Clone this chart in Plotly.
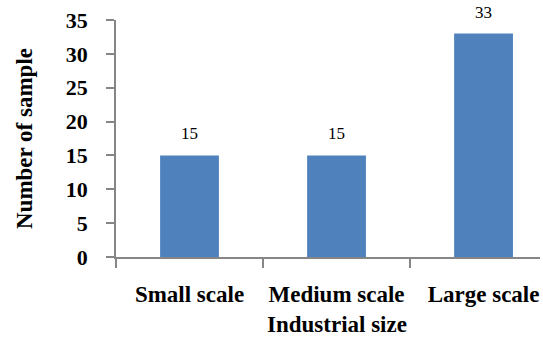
import plotly.graph_objects as go

# Sample counts by industrial size
categories = ["Small scale", "Medium scale", "Large scale"]
samples = [15, 15, 33]
y_ticks = [0, 5, 10, 15, 20, 25, 30, 35]

BAR_COLOR = "#4F81BD"
AXIS_COLOR = "#868686"
SERIF = "Liberation Serif, Times New Roman, serif"

fig = go.Figure(
    go.Bar(
        x=categories,
        y=samples,
        width=0.4,
        marker=dict(color=BAR_COLOR, line=dict(width=0)),
        hoverinfo="x+y",
    )
)

# Value labels above each bar
for cat, val in zip(categories, samples):
    fig.add_annotation(
        x=cat, y=val, xref="x", yref="y",
        text=str(val), showarrow=False,
        yanchor="bottom", yshift=10,
        font=dict(family=SERIF, size=17, color="#000000"),
    )

# Axis title centred under the middle category
fig.add_annotation(
    x=categories[1], xref="x", y=0, yref="paper",
    text="<b>Industrial size</b>", showarrow=False,
    yanchor="middle", yshift=-67,
    font=dict(family=SERIF, size=23, color="#000000"),
)

fig.update_layout(
    width=543,
    height=338,
    margin=dict(l=116, r=3, t=20, b=81),
    paper_bgcolor="#ffffff",
    plot_bgcolor="#ffffff",
    showlegend=False,
    bargap=0.6,
    font=dict(family=SERIF, color="#000000"),
)

fig.update_xaxes(
    type="category",
    range=[-0.5, 2.384],
    showline=True,
    linecolor=AXIS_COLOR,
    linewidth=1.5,
    ticks="outside",
    tickson="boundaries",
    ticklen=9,
    tickcolor=AXIS_COLOR,
    tickwidth=1.5,
    showgrid=False,
    zeroline=False,
    tickfont=dict(family=SERIF, size=23, color="#000000"),
    ticklabelstandoff=16,
    tickprefix="<b>", ticksuffix="</b>",
)

fig.update_yaxes(
    range=[0, 35],
    tickvals=y_ticks,
    ticktext=[f"<b>{v}</b>" for v in y_ticks],
    showline=True,
    linecolor=AXIS_COLOR,
    linewidth=1.5,
    ticks="outside",
    ticklen=8,
    tickcolor=AXIS_COLOR,
    tickwidth=1.5,
    showgrid=False,
    zeroline=False,
    tickfont=dict(family=SERIF, size=22, color="#000000"),
    ticklabelstandoff=14,
    title=dict(text="<b>Number of sample</b>", standoff=27,
               font=dict(family=SERIF, size=23, color="#000000")),
)

fig.write_html("out.html")
